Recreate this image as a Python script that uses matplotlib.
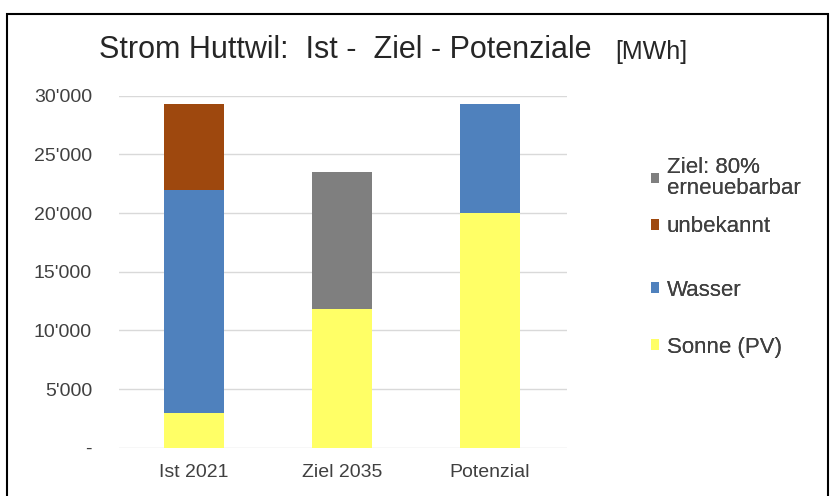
import matplotlib
matplotlib.use("Agg")
import matplotlib.pyplot as plt
from matplotlib.patches import Rectangle
from matplotlib.ticker import FuncFormatter

plt.rcParams['font.family'] = ['Liberation Sans', 'DejaVu Sans']

categories = ["Ist 2021", "Ziel 2035", "Potenzial"]
sonne = [3000, 11800, 20000]
wasser = [19000, 0, 9300]
unbekannt = [7300, 0, 0]
ziel = [0, 11700, 0]

series_labels = ["Sonne (PV)", "Wasser", "unbekannt", "Ziel: 80%\nerneuebarbar"]
colors = ["#FFFF66", "#4F81BD", "#9E480E", "#7F7F7F"]

W, H = 830, 496
fig = plt.figure(figsize=(W / 100, H / 100), dpi=100)
ax = fig.add_axes([118.5 / W, 1 - 447.7 / H, (567 - 118.5) / W, (447.7 - 95.7) / H])

x = list(range(len(categories)))
bottom = [0, 0, 0]
handles = []
for vals, lab, col in zip([sonne, wasser, unbekannt, ziel], series_labels, colors):
    b = ax.bar(x, vals, bottom=bottom, width=0.4, color=col, label=lab, zorder=3)
    handles.append(b)
    bottom = [bb + v for bb, v in zip(bottom, vals)]

ax.set_xlim(-0.51, 2.52)
ax.set_ylim(0, 30000)
ax.set_yticks(range(0, 30001, 5000))

def fmt(v, pos):
    if v == 0:
        return "-"
    return f"{int(v):,}".replace(",", "'")

ax.yaxis.set_major_formatter(FuncFormatter(fmt))
ax.set_xticks(x)
ax.set_xticklabels(categories)
ax.tick_params(axis='both', length=0, labelsize=14, labelcolor="#404040")
ax.tick_params(axis='y', pad=19)
ax.tick_params(axis='x', pad=12)
ax.grid(axis='y', color="#D9D9D9", linewidth=1, zorder=0)
for s in ax.spines.values():
    s.set_visible(False)

# legend entries (top to bottom), each placed at its own vertical position
legend_y = [178, 227, 290, 347]
for h, lab, yy in zip(handles[::-1], series_labels[::-1], legend_y):
    lg = fig.legend([h], [lab], loc='center left',
                    bbox_to_anchor=(651 / W, 1 - yy / H), frameon=False,
                    fontsize=16, handlelength=0.35, handleheight=0.35,
                    handletextpad=0.35, borderpad=0, borderaxespad=0,
                    labelcolor="#404040")
    for t in lg.get_texts():
        t.set_linespacing(1.0)
    fig.add_artist(lg)

fig.text(99 / W, 1 - 50.5 / H, "Strom Huttwil:  Ist -  Ziel - Potenziale", fontsize=22,
         color="#262626", va='center', ha='left')
fig.text(615 / W, 1 - 52 / H, "[MWh]", fontsize=18, color="#262626", va='center', ha='left')

fig.patches.append(Rectangle((7 / W, -0.1), (828 - 7) / W, 1.1 - 14 / H,
                             transform=fig.transFigure, fill=False,
                             edgecolor="black", linewidth=1.5))

fig.savefig("out.png", dpi=100)
